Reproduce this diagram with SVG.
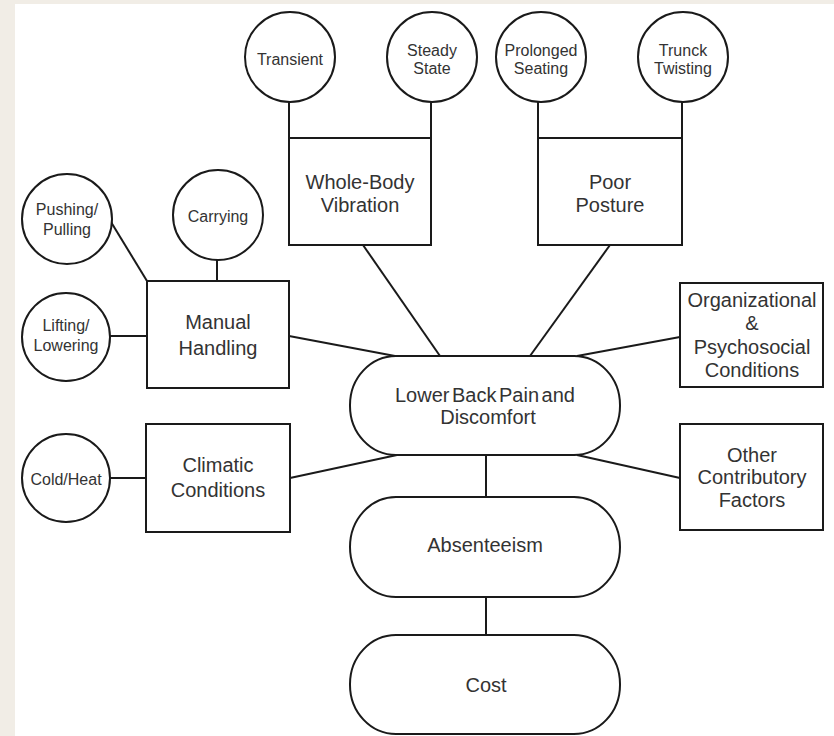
<svg xmlns="http://www.w3.org/2000/svg" width="834" height="736" viewBox="0 0 834 736">
<style>
.shape{fill:#fff;stroke:#1a1a1a;stroke-width:2}
.conn line{stroke:#1a1a1a;stroke-width:2}
.sm{font-family:"Liberation Sans",Arial,sans-serif;font-size:16px;fill:#333;text-anchor:middle}
.lg{font-family:"Liberation Sans",Arial,sans-serif;font-size:20px;fill:#333;text-anchor:middle}
</style>
<rect x="0" y="0" width="834" height="736" fill="#f1ede6"/>
<rect x="15" y="4" width="819" height="732" fill="#fff"/>
<g class="conn" id="connectors">
<line x1="289" y1="102" x2="289" y2="138"/>
<line x1="431" y1="102" x2="431" y2="138"/>
<line x1="538" y1="102" x2="538" y2="138"/>
<line x1="682" y1="102" x2="682" y2="138"/>
<line x1="217" y1="260" x2="217" y2="281"/>
<line x1="111" y1="222" x2="147" y2="281"/>
<line x1="110" y1="336" x2="147" y2="336"/>
<line x1="110" y1="478" x2="146" y2="478"/>
<line x1="363" y1="245" x2="440" y2="356"/>
<line x1="610" y1="245" x2="530" y2="356"/>
<line x1="289" y1="336" x2="395" y2="356"/>
<line x1="290" y1="478" x2="397" y2="455"/>
<line x1="577" y1="356" x2="680" y2="337"/>
<line x1="577" y1="455" x2="680" y2="478"/>
<line x1="486" y1="455" x2="486" y2="497"/>
<line x1="486" y1="597" x2="486" y2="635"/>
</g>
<g id="transient"><circle class="shape" cx="290" cy="57" r="45"/><text class="sm" x="290" y="65">Transient</text></g>
<g id="steady-state"><circle class="shape" cx="432" cy="57" r="45"/><text class="sm" x="432" y="56">Steady</text><text class="sm" x="432" y="74">State</text></g>
<g id="prolonged-seating"><circle class="shape" cx="541" cy="57" r="45"/><text class="sm" x="541" y="56">Prolonged</text><text class="sm" x="541" y="74">Seating</text></g>
<g id="trunck-twisting"><circle class="shape" cx="683" cy="57" r="45"/><text class="sm" x="683" y="56">Trunck</text><text class="sm" x="683" y="74">Twisting</text></g>
<g id="pushing-pulling"><circle class="shape" cx="67" cy="219" r="45"/><text class="sm" x="67" y="215">Pushing/</text><text class="sm" x="67" y="235">Pulling</text></g>
<g id="carrying"><circle class="shape" cx="218" cy="215" r="45"/><text class="sm" x="218" y="222">Carrying</text></g>
<g id="lifting-lowering"><circle class="shape" cx="66" cy="337" r="44"/><text class="sm" x="66" y="331">Lifting/</text><text class="sm" x="66" y="351">Lowering</text></g>
<g id="cold-heat"><circle class="shape" cx="66" cy="478" r="44"/><text class="sm" x="66" y="485">Cold/Heat</text></g>
<g id="whole-body-vibration"><rect class="shape" x="289" y="138" width="142" height="107"/><text class="lg" x="360" y="189">Whole-Body</text><text class="lg" x="360" y="212">Vibration</text></g>
<g id="poor-posture"><rect class="shape" x="538" y="138" width="144" height="107"/><text class="lg" x="610" y="189">Poor</text><text class="lg" x="610" y="212">Posture</text></g>
<g id="manual-handling"><rect class="shape" x="147" y="281" width="142" height="107"/><text class="lg" x="218" y="329">Manual</text><text class="lg" x="218" y="355">Handling</text></g>
<g id="climatic-conditions"><rect class="shape" x="146" y="424" width="144" height="108"/><text class="lg" x="218" y="472">Climatic</text><text class="lg" x="218" y="497">Conditions</text></g>
<g id="organizational"><rect class="shape" x="680" y="283" width="143" height="104"/><text class="lg" x="752" y="307">Organizational</text><text class="lg" x="752" y="330">&amp;</text><text class="lg" x="752" y="354">Psychosocial</text><text class="lg" x="752" y="377">Conditions</text></g>
<g id="other-factors"><rect class="shape" x="680" y="424" width="143" height="106"/><text class="lg" x="752" y="462">Other</text><text class="lg" x="752" y="484">Contributory</text><text class="lg" x="752" y="507">Factors</text></g>
<g id="lower-back-pain"><rect class="shape" x="350" y="356" width="270" height="99" rx="46" ry="49"/><text class="lg" x="485" y="402" word-spacing="-3">Lower Back Pain and</text><text class="lg" x="488" y="424">Discomfort</text></g>
<g id="absenteeism"><rect class="shape" x="350" y="497" width="270" height="100" rx="46" ry="50"/><text class="lg" x="485" y="552">Absenteeism</text></g>
<g id="cost"><rect class="shape" x="350" y="635" width="270" height="99" rx="46" ry="49"/><text class="lg" x="486" y="692">Cost</text></g>
</svg>
